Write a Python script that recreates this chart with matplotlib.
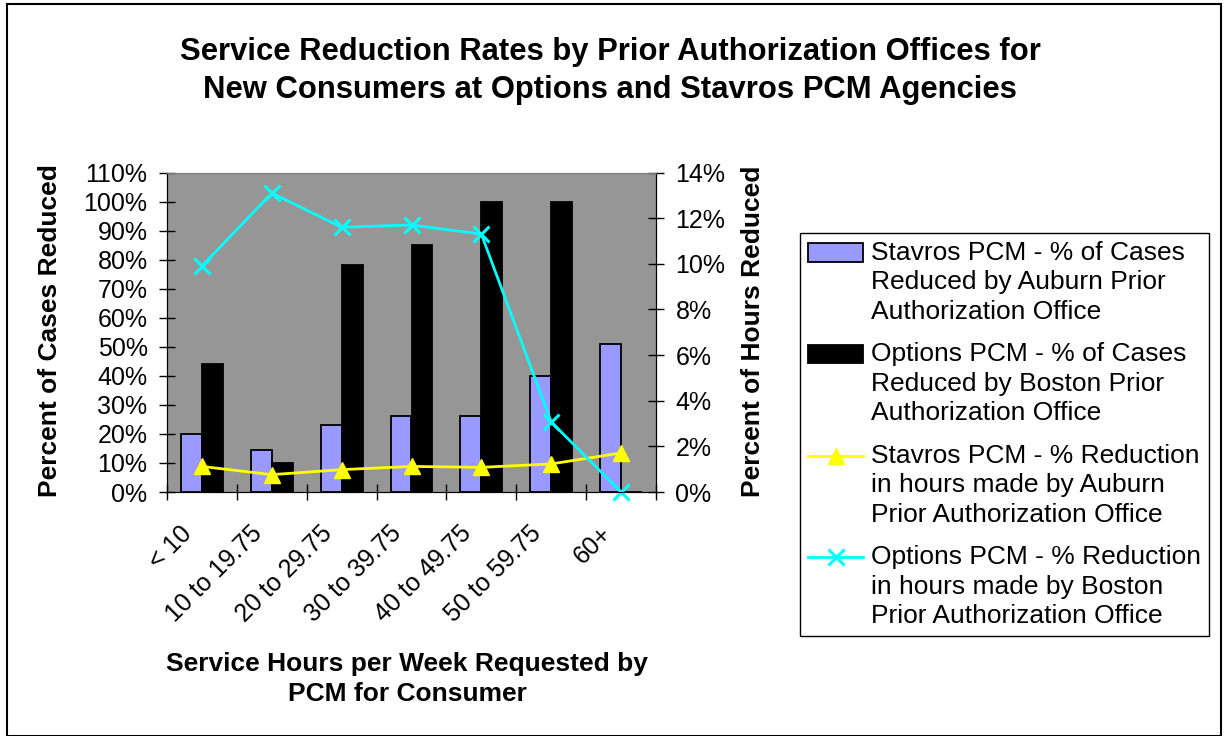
import numpy as np
import matplotlib
matplotlib.use('Agg')
import matplotlib.pyplot as plt
from matplotlib.patches import Patch, Rectangle
from matplotlib.lines import Line2D
from matplotlib.legend_handler import HandlerPatch, HandlerLine2D
from matplotlib.transforms import ScaledTranslation

plt.rcParams['font.family'] = ['Liberation Sans', 'DejaVu Sans']

# datos
categorias = ['< 10', '10 to 19.75', '20 to 29.75', '30 to 39.75',
              '40 to 49.75', '50 to 59.75', '60+']
stavros_casos = [20, 14.5, 23, 26, 26, 40, 51]        # % casos (eje izq)
options_casos = [44, 10, 78, 85, 100, 100, 0]
stavros_horas = [1.12, 0.76, 0.98, 1.12, 1.08, 1.23, 1.71]  # % horas (eje der)
options_horas = [9.9, 13.1, 11.6, 11.7, 11.3, 3.07, 0]

etiquetas = ['Stavros PCM - % of Cases\nReduced by Auburn Prior\nAuthorization Office',
             'Options PCM - % of Cases\nReduced by Boston Prior\nAuthorization Office',
             'Stavros PCM - % Reduction\nin hours made by Auburn\nPrior Authorization Office',
             'Options PCM - % Reduction\nin hours made by Boston\nPrior Authorization Office']

W, H = 1225, 736
fig = plt.figure(figsize=(W / 100, H / 100), dpi=100)
ax = fig.add_axes([167 / W, 1 - 492 / H, (656 - 167) / W, (492 - 172.5) / H])
ax.set_facecolor('#969696')

x = np.arange(len(categorias))
ancho = 0.3
ax.bar(x - ancho / 2, stavros_casos, ancho, color='#9999FF', edgecolor='black', linewidth=1.3)
ax.bar(x + ancho / 2, options_casos, ancho, color='black', edgecolor='black', linewidth=1.3)

ax.set_xlim(-0.5, len(categorias) - 0.5)
ax.set_ylim(0, 110)
ax.set_yticks(np.arange(0, 111, 10))
ax.set_yticklabels([f'{v}%' for v in range(0, 111, 10)])
ax.tick_params(axis='y', direction='inout', length=12, width=1, labelsize=18, pad=8)

ax.set_xticks(x)
ax.set_xticklabels(categorias, rotation=45, ha='right', rotation_mode='anchor')
ax.tick_params(axis='x', which='major', length=0, labelsize=18, pad=21)
ax.set_xticks(np.arange(-0.5, len(categorias)), minor=True)
ax.tick_params(axis='x', which='minor', direction='inout', length=12, width=1)
# las etiquetas de Excel quedan algo a la izquierda del centro
desplaza = ScaledTranslation(-0.22, 0, fig.dpi_scale_trans)
for lbl in ax.get_xticklabels():
    lbl.set_transform(lbl.get_transform() + desplaza)

ax2 = ax.twinx()
ax2.plot(x, stavros_horas, color='#FFFF00', linewidth=2, marker='^', markersize=11,
         markerfacecolor='#FFFF00', markeredgecolor='#FFFF00')
ax2.plot(x, options_horas, color='#00FFFF', linewidth=2, marker='x', markersize=11,
         markeredgewidth=2.2, clip_on=False)
ax2.set_ylim(0, 14)
ax2.set_yticks(np.arange(0, 15, 2))
ax2.set_yticklabels([f'{v}%' for v in range(0, 15, 2)])
ax2.tick_params(axis='y', direction='inout', length=12, width=1, labelsize=18, pad=8)

for a in (ax, ax2):
    a.spines['top'].set_color('#808080')
    for s in ('left', 'right', 'bottom'):
        a.spines[s].set_color('black')

# textos
fig.text(0.498, 1 - 71 / H, 'Service Reduction Rates by Prior Authorization Offices for\n'
         'New Consumers at Options and Stavros PCM Agencies',
         ha='center', va='center', fontsize=22.3, fontweight='bold', linespacing=1.36)
fig.text(50 / W, 1 - 331 / H, 'Percent of Cases Reduced', rotation=90,
         ha='center', va='center', fontsize=19, fontweight='bold')
fig.text(753 / W, 1 - 331 / H, 'Percent of Hours Reduced', rotation=90,
         ha='center', va='center', fontsize=19, fontweight='bold')
fig.text(407 / W, 1 - 679 / H, 'Service Hours per Week Requested by\nPCM for Consumer',
         ha='center', va='center', fontsize=19, fontweight='bold', linespacing=1.32)


# leyenda: el simbolo va a la altura de la primera linea
SUBE = 1.14


class ParcheArriba(HandlerPatch):
    def create_artists(self, legend, orig_handle, xdescent, ydescent, width, height, fontsize, trans):
        return super().create_artists(legend, orig_handle, xdescent, ydescent - SUBE * fontsize,
                                      width, height, fontsize, trans)


class LineaArriba(HandlerLine2D):
    def create_artists(self, legend, orig_handle, xdescent, ydescent, width, height, fontsize, trans):
        return super().create_artists(legend, orig_handle, xdescent, ydescent - 2 * SUBE * fontsize,
                                      width, height, fontsize, trans)


manejadores = [Patch(facecolor='#9999FF', edgecolor='black', linewidth=1.3),
               Patch(facecolor='black', edgecolor='black', linewidth=1.3),
               Line2D([], [], color='#FFFF00', linewidth=2, marker='^', markersize=11),
               Line2D([], [], color='#00FFFF', linewidth=2, marker='x', markersize=11,
                      markeredgewidth=2.2)]
leg = fig.legend(manejadores, etiquetas, loc='upper left',
                 bbox_to_anchor=(800 / W, 1 - 233 / H), borderaxespad=0,
                 fontsize=19, fancybox=False, edgecolor='black', framealpha=1,
                 handlelength=2.1, handletextpad=0.3, labelspacing=0.7, borderpad=0.3,
                 handler_map={Patch: ParcheArriba(), Line2D: LineaArriba()})
leg.get_frame().set_linewidth(1)
for t in leg.get_texts():
    t.set_linespacing(1.29)

# borde de la figura
fig.patches.append(Rectangle((7 / W, 0), (1221 - 7) / W, 1 - 4 / H, transform=fig.transFigure,
                             fill=False, edgecolor='black', linewidth=1.5))

fig.savefig('out.png', dpi=100)
